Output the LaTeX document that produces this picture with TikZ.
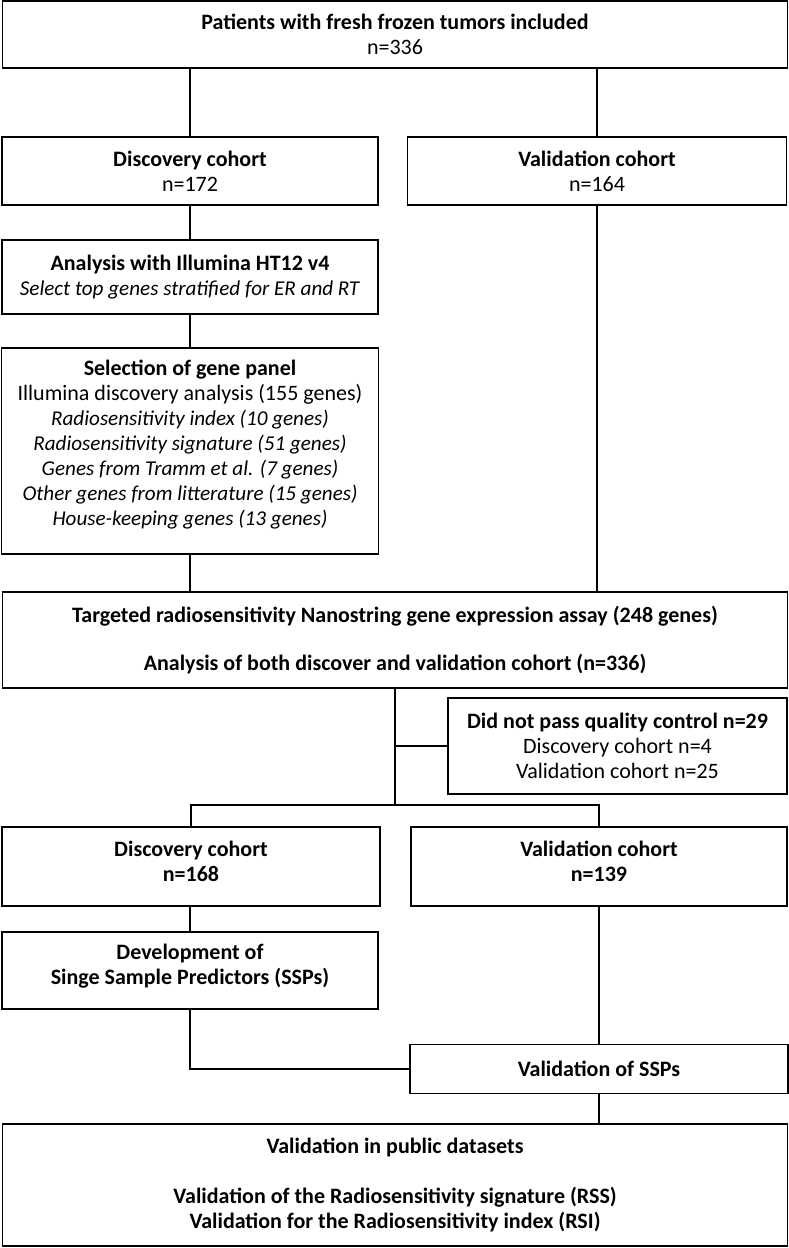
\documentclass[tikz,border=0pt]{standalone}
\usepackage{fontspec}
\setmainfont{Carlito}[ItalicFeatures={Scale=0.96}]
\newcommand{\padbottom}[1]{\\[#1]\mbox{}}

\tikzset{
	box/.style={draw, line width=1.6pt, align=center, inner sep=0pt, font=\fontsize{22}{25}\selectfont},
	link/.style={line width=1.6pt},
}

\begin{document}
\begin{tikzpicture}[x=1pt, y=-1pt]
	\useasboundingbox (0,0) rectangle (789,1248);

	% inclusion and first split
	\node[box, minimum width=785, minimum height=67] (incl) at (395,34.5) {\textbf{Patients with fresh frozen tumors included}\\n=336};
	\node[box, minimum width=376, minimum height=68] (disc) at (190,171) {\textbf{Discovery cohort}\\n=172};
	\node[box, minimum width=379, minimum height=68] (valid) at (597,171) {\textbf{Validation cohort}\\n=164};

	% gene panel
	\node[box, minimum width=376, minimum height=74] (illu) at (190,277) {\textbf{Analysis with Illumina HT12 v4}\\\textit{Select top genes stratified for ER and RT}};
	\node[box, minimum width=377, minimum height=206] (panel) at (190,451) {\textbf{Selection of gene panel}\\
		Illumina discovery analysis (155 genes)\\
		\textit{Radiosensitivity index (10 genes)}\\
		\textit{Radiosensitivity signature (51 genes)}\\
		\textit{Genes from Tramm et al. (7 genes)}\\
		\textit{Other genes from litterature (15 genes)}\\
		\textit{House-keeping genes (13 genes)}\padbottom{-9pt}};

	% nanostring assay
	\node[box, minimum width=785, minimum height=96] (nano) at (395,640) {\textbf{Targeted radiosensitivity Nanostring gene expression assay (248 genes)}\\[23pt]\textbf{Analysis of both discover and validation cohort (n=336)}};
	\node[box, minimum width=339, minimum height=96] (qc) at (617.5,746) {\textbf{Did not pass quality control n=29}\\Discovery cohort n=4\\Validation cohort n=25};

	% second split
	\node[box, minimum width=378, minimum height=79] (disctwo) at (191,866.5) {\textbf{Discovery cohort}\\\textbf{n=168}\padbottom{-15pt}};
	\node[box, minimum width=376, minimum height=79] (validtwo) at (599,866.5) {\textbf{Validation cohort}\\\textbf{n=139}\padbottom{-15pt}};
	\node[box, minimum width=376, minimum height=77] (ssp) at (190,970.5) {\textbf{Development of}\\\textbf{Singe Sample Predictors (SSPs)}\padbottom{-13pt}};
	\node[box, minimum width=378, minimum height=49] (vssp) at (599,1069) {\textbf{Validation of SSPs}};
	\node[box, minimum width=785, minimum height=122] (public) at (395,1185) {\textbf{Validation in public datasets}\\[25pt]\textbf{Validation of the Radiosensitivity signature (RSS)}\\\textbf{Validation for the Radiosensitivity index (RSI)}};

	\coordinate (split) at (395,805);

	% connectors
	\draw[link] (disc.north) -- (disc.north |- incl.south);
	\draw[link] (valid.north) -- (valid.north |- incl.south);
	\draw[link] (disc) -- (illu);
	\draw[link] (illu) -- (panel);
	\draw[link] (panel.south) -- (panel.south |- nano.north);
	\draw[link] (valid.south) -- (valid.south |- nano.north);
	\draw[link] (nano.south) -- (split);
	\draw[link] (qc.west) -- (qc.west -| split);
	\draw[link] (disctwo.north) |- (split) -| (validtwo.north);
	\draw[link] (ssp.north) -- (ssp.north |- disctwo.south);
	\draw[link] (validtwo) -- (vssp);
	\draw[link] (ssp.south) |- (vssp.west);
	\draw[link] (vssp.south) -- (vssp.south |- public.north);
\end{tikzpicture}
\end{document}
